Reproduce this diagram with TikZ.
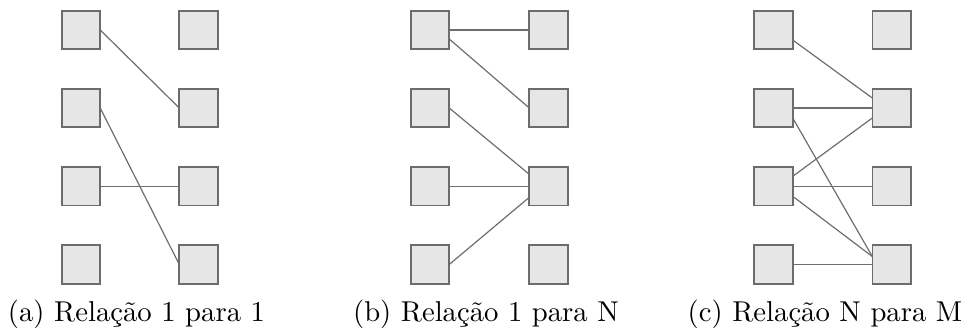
\documentclass[tikz,border=0pt]{standalone}
\usetikzlibrary{calc}
\definecolor{boxfill}{HTML}{E6E6E6}
\definecolor{boxline}{HTML}{6C6C6C}
\definecolor{linkline}{HTML}{6E6E6E}
\begin{document}
\begin{tikzpicture}[x=0.3486pt, y=-0.3486pt,
  entity/.style={draw=boxline, fill=boxfill, line width=0.55pt,
    minimum size=13.4pt, inner sep=0pt, outer sep=0pt},
  link/.style={draw=linkline, line width=0.42pt},
  caption/.style={anchor=base, inner sep=0pt, font=\fontsize{10}{12}\selectfont}]
\useasboundingbox (0,0) rectangle (967,330);

% entity columns of the three panels
\foreach \p/\xl/\xr in {a/81/198.5, b/430/548.5, c/773.5/891.5}{
  \foreach \i/\y in {1/30, 2/108, 3/186.3, 4/264.5}{
    \node[entity] (\p L\i) at (\xl,\y) {};
    \node[entity] (\p R\i) at (\xr,\y) {};
  }
}

% (a) one-to-one
\draw[link] (aL1.east) -- (aR2.west);
\draw[link] (aL2.east) -- (aR4.west);
\draw[link] (aL3.east) -- (aR3.west);

% (b) one-to-many
\draw[link] (bL1.east) -- (bR1.west);
\draw[link] ($(bL1.east)+(0,9)$) -- (bR2.west);
\draw[link] (bL2.east) -- ($(bR3.west)+(0,-12)$);
\draw[link] (bL3.east) -- (bR3.west);
\draw[link] (bL4.east) -- ($(bR3.west)+(0,11)$);

% (c) many-to-many
\draw[link] ($(cL1.east)+(0,10)$) -- ($(cR2.west)+(0,-10)$);
\draw[link] (cL2.east) -- (cR2.west);
\draw[link] ($(cL2.east)+(0,10)$) -- ($(cR4.west)+(0,-8)$);
\draw[link] ($(cL3.east)+(0,-10)$) -- ($(cR2.west)+(0,10)$);
\draw[link] (cL3.east) -- (cR3.west);
\draw[link] ($(cL3.east)+(0,10)$) -- ($(cR4.west)+(0,-8)$);
\draw[link] (cL4.east) -- (cR4.west);

% captions
\node[caption] (capa) at (136.5,321.5) {(a) Relação 1 para 1};
\node[caption] (capb) at (486,321.5) {(b) Relação 1 para N};
\node[caption] (capc) at (825,321.5) {(c) Relação N para M};
\end{tikzpicture}
\end{document}
